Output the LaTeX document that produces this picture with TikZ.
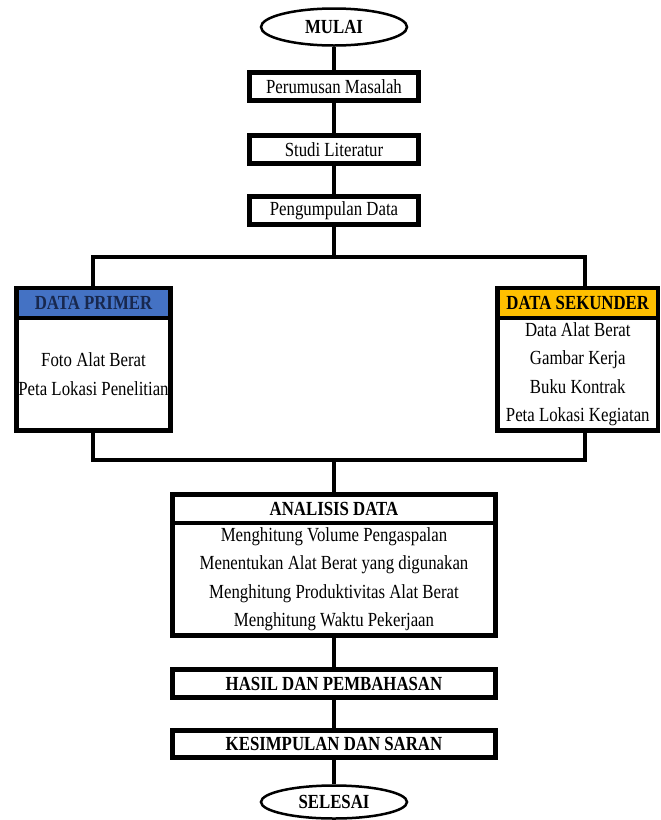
\documentclass[tikz,border=0pt]{standalone}
\usepackage{fontspec}
\setmainfont{Liberation Serif}[FakeStretch=0.84]
\usetikzlibrary{shapes.geometric,positioning}
\definecolor{primblue}{RGB}{68,114,196}
\definecolor{primtext}{RGB}{24,40,78}
\definecolor{sekorange}{RGB}{255,192,0}
\tikzset{
  base/.style={draw=black,line width=4.5pt,fill=white,inner sep=0pt,align=center,font=\fontsize{20}{28.5}\selectfont},
  stepbox/.style={base,minimum width=169pt,minimum height=28pt},
  widebox/.style={base,minimum width=323pt,minimum height=28pt,font=\fontsize{20}{28.5}\selectfont\bfseries},
  headbox/.style={base,minimum height=30pt,font=\fontsize{20}{28.5}\selectfont\bfseries},
  bodybox/.style={base,minimum height=112.5pt},
  terminal/.style={ellipse,draw=black,line width=2.5pt,fill=white,inner sep=0pt,font=\fontsize{20}{22}\selectfont\bfseries},
  link/.style={line width=4.5pt,draw=black,line join=miter}
}
\begin{document}
\begin{tikzpicture}[x=1pt,y=-1pt]
  \useasboundingbox (0,0) rectangle (661,820);
  % alur utama atas
  \node[terminal,minimum width=146pt,minimum height=37pt] (mulai) at (334,27) {MULAI};
  \node[stepbox] (rumusan) at (334,86.5) {Perumusan Masalah};
  \node[stepbox] (studi) at (334,149.5) {Studi Literatur};
  \node[stepbox] (kumpul) at (334,210.5) {Pengumpulan Data};
  % data primer dan sekunder
  \coordinate (barL) at (93,257);
  \coordinate (barR) at (585,257);
  \node[headbox,minimum width=154pt,fill=primblue,text=primtext] (primhead) at (93.5,302.75) {DATA PRIMER};
  \node[bodybox,minimum width=154pt] (primbody) at (93.5,374.25) {Foto Alat Berat\\Peta Lokasi Penelitian};
  \node[headbox,minimum width=160.5pt,fill=sekorange] (sekhead) at (577.75,302.75) {DATA SEKUNDER};
  \node[bodybox,minimum width=160.5pt] (sekbody) at (577.75,374.25) {Data Alat Berat\\Gambar Kerja\\Buku Kontrak\\Peta Lokasi Kegiatan};
  \coordinate (lowL) at (93,460);
  \coordinate (lowR) at (585,460);
  % analisis dan hasil
  \node[widebox,minimum height=28.5pt] (anahead) at (334,508.75) {ANALISIS DATA};
  \node[bodybox,minimum width=323pt] (anabody) at (334,579.25) {Menghitung Volume Pengaspalan\\Menentukan Alat Berat yang digunakan\\Menghitung Produktivitas Alat Berat\\Menghitung Waktu Pekerjaan};
  \node[widebox] (hasil) at (334,683.5) {HASIL DAN PEMBAHASAN};
  \node[widebox,minimum height=27pt] (simpul) at (334,744) {KESIMPULAN DAN SARAN};
  \node[terminal,minimum width=146pt,minimum height=33pt] (selesai) at (334,802) {SELESAI};
  % penghubung
  \draw[link] (mulai) -- (rumusan);
  \draw[link] (rumusan) -- (studi);
  \draw[link] (studi) -- (kumpul);
  \draw[link] (kumpul.south) -- (kumpul.south |- barL);
  \draw[link] (barL |- primhead.north) -- (barL) -- (barR) -- (barR |- sekhead.north);
  \draw[link] (lowL |- primbody.south) -- (lowL) -- (lowR) -- (lowR |- sekbody.south);
  \draw[link] (anahead.north |- lowL) -- (anahead.north);
  \draw[link] (anabody) -- (hasil);
  \draw[link] (hasil) -- (simpul);
  \draw[link] (simpul) -- (selesai);
\end{tikzpicture}
\end{document}
